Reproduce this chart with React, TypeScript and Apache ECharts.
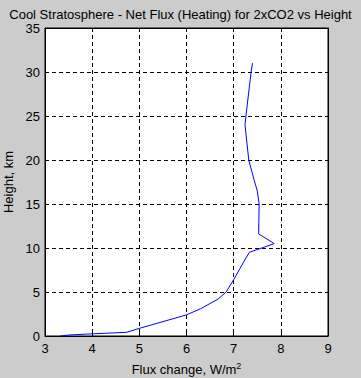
import React, { useEffect, useRef } from "react";
import * as echarts from "echarts";

const fluxChange: number[] = [3.32, 3.53, 3.9, 4.73, 5.0, 6.0, 6.3, 6.67, 6.84, 7.0, 7.2, 7.33, 7.86, 7.53, 7.54, 7.5, 7.43, 7.32, 7.24, 7.26, 7.37, 7.4];
const heightKm: number[] = [0.0, 0.12, 0.22, 0.42, 0.87, 2.4, 3.1, 4.2, 5.0, 6.4, 8.3, 9.5, 10.5, 11.6, 15.0, 16.5, 17.8, 20.0, 24.0, 25.0, 30.0, 31.0];
const xTicks: number[] = [3, 4, 5, 6, 7, 8, 9];
const yTicks: number[] = [0, 5, 10, 15, 20, 25, 30, 35];

const FONT = "Arial, Liberation Sans, sans-serif";

export default function App() {
  const ref = useRef<HTMLDivElement>(null);
  useEffect(() => {
    document.body.style.margin = "0";
    const chart = echarts.init(ref.current!, null, { renderer: "svg" });
    const data = fluxChange.map((x, i) => [x, heightKm[i]]);
    const gridLine = { show: true, lineStyle: { color: "#000", type: [4, 3] as any, width: 1 } };
    const axisCommon = {
      axisLine: { show: true, onZero: false, lineStyle: { color: "#000", width: 1 } },
      axisTick: { show: true, inside: true, length: 3, lineStyle: { color: "#000" } },
    };
    chart.setOption({
      animation: false,
      backgroundColor: "#cccccc",
      title: {
        text: "Cool Stratosphere - Net Flux (Heating) for 2xCO2 vs Height",
        left: "center",
        top: 3,
        textStyle: { fontFamily: FONT, fontSize: 13, fontWeight: "normal", color: "#000" },
      },
      grid: {
        left: 45, right: 33, top: 28, bottom: 42,
        containLabel: false, outerBoundsMode: "none",
        show: true, backgroundColor: "#fff", borderColor: "#000", borderWidth: 1,
      },
      xAxis: [
        {
          type: "value",
          min: xTicks[0],
          max: xTicks[xTicks.length - 1],
          interval: 1,
          ...axisCommon,
          splitLine: gridLine,
          axisLabel: { color: "#000", fontFamily: FONT, fontSize: 13, margin: 6 },
          name: "Flux change, W/m{sup|2}",
          nameLocation: "middle",
          nameGap: 25,
          nameTextStyle: {
            color: "#000", fontFamily: FONT, fontSize: 13,
            rich: { sup: { fontSize: 9, fontFamily: FONT, color: "#000", padding: [0, 0, 8, 0] } },
          },
        },
        {
          type: "value",
          position: "top",
          min: xTicks[0],
          max: xTicks[xTicks.length - 1],
          interval: 1,
          ...axisCommon,
          splitLine: { show: false },
          axisLabel: { show: false },
        },
      ],
      yAxis: [
        {
          type: "value",
          min: yTicks[0],
          max: yTicks[yTicks.length - 1],
          interval: 5,
          ...axisCommon,
          splitLine: gridLine,
          axisLabel: { color: "#000", fontFamily: FONT, fontSize: 13, margin: 5 },
          name: "Height, km",
          nameLocation: "middle",
          nameGap: 27,
          nameTextStyle: { color: "#000", fontFamily: FONT, fontSize: 13 },
        },
        {
          type: "value",
          position: "right",
          min: yTicks[0],
          max: yTicks[yTicks.length - 1],
          interval: 5,
          ...axisCommon,
          splitLine: { show: false },
          axisLabel: { show: false },
        },
      ],
      series: [
        {
          type: "line",
          data,
          xAxisIndex: 0,
          yAxisIndex: 0,
          showSymbol: false,
          symbol: "none",
          lineStyle: { color: "#0000ff", width: 1 },
        },
      ],
    });
    return () => chart.dispose();
  }, []);
  return <div ref={ref} style={{ width: 361, height: 378 }} />;
}
